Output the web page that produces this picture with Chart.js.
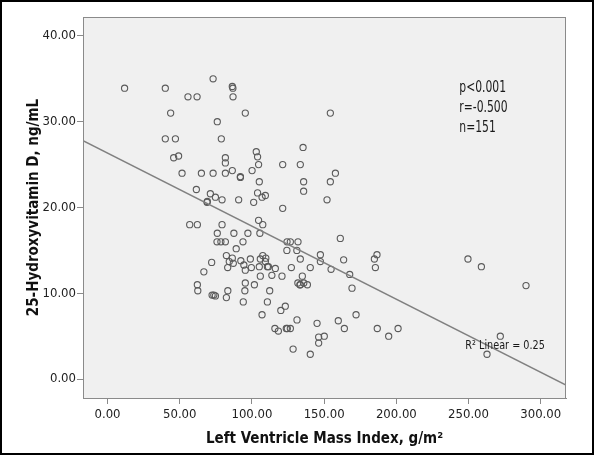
<!DOCTYPE html>
<html>
<head>
<meta charset="utf-8">
<script src="https://cdn.jsdelivr.net/npm/chart.js@4.4.1/dist/chart.umd.min.js"></script>
<style>
  html, body { margin: 0; padding: 0; background: #ffffff; }
  #wrap { width: 594px; height: 455px; }
</style>
</head>
<body>
<div id="wrap"><canvas id="c" width="594" height="455"></canvas></div>
<script>
// Left Ventricle Mass Index (g/m²)
const lvmi = [
  11.8,40.0,73.1,86.4,86.8,55.7,62.0,86.9,43.7,95.4,
  154.3,76.0,40.0,47.0,78.8,45.8,49.2,51.6,61.5,65.0,
  73.1,81.6,81.6,81.6,86.4,92.0,100.1,103.0,103.9,104.6,
  121.3,133.5,135.4,157.8,105.1,135.8,154.3,135.8,71.2,74.7,
  79.3,90.8,68.9,101.2,103.9,107.0,109.3,152.0,121.3,56.9,
  62.2,79.3,104.6,107.5,76.0,87.5,97.2,105.5,75.8,78.5,
  81.6,93.8,89.1,124.3,126.6,131.9,161.2,124.2,131.1,133.5,
  147.4,163.5,186.6,184.8,185.5,249.6,258.9,82.3,86.4,84.3,
  87.1,83.2,92.3,94.4,95.4,98.9,99.6,105.1,105.8,107.5,
  109.3,111.4,116.2,72.1,66.7,105.8,113.8,120.8,127.3,140.4,
  134.9,147.4,154.8,167.7,131.8,133.5,135.9,138.4,169.3,95.4,
  101.7,62.2,62.5,72.4,74.7,83.3,82.3,95.1,112.3,94.0,
  110.7,123.1,120.0,107.0,131.2,145.1,159.8,164.0,172.1,115.9,
  118.3,123.8,126.6,146.2,150.1,146.2,128.5,140.4,186.8,194.7,
  201.2,272.0,262.8,289.8,92.0,69.1,109.6,110.7,133.2,73.6,
  124.5
];
// 25-Hydroxyvitamin D (ng/mL)
const vitD = [
  33.9,33.9,35.0,34.1,33.9,32.9,32.9,32.9,31.0,31.0,
  31.0,30.0,28.0,28.0,28.0,25.8,26.0,24.0,22.1,24.0,
  24.0,25.8,25.2,24.0,24.3,23.6,24.3,26.5,25.9,25.0,
  25.0,25.0,27.0,24.0,23.0,23.0,23.0,21.9,21.6,21.2,
  20.9,20.9,20.6,20.6,21.7,21.2,21.4,20.9,19.9,18.0,
  18.0,18.0,18.5,18.0,17.0,17.0,17.0,17.0,16.0,16.0,
  16.0,16.0,15.2,16.0,16.0,16.0,16.4,15.0,15.0,14.0,
  14.5,13.9,14.5,14.0,13.0,14.0,13.1,14.4,14.1,13.7,
  13.5,13.0,13.8,13.3,12.7,14.0,13.0,13.1,14.0,14.4,
  13.7,13.1,12.9,13.6,12.5,12.0,12.1,12.0,13.0,13.0,
  12.0,13.7,12.8,12.2,11.2,11.0,11.2,11.0,10.6,11.2,
  11.0,11.0,10.3,9.8,9.7,10.3,9.5,10.3,10.3,9.0,
  9.0,8.5,8.0,7.5,6.9,6.5,6.8,5.9,7.5,5.9,
  5.6,5.9,5.9,4.9,5.0,4.2,3.5,2.9,5.9,5.0,
  5.9,5.0,2.9,10.9,23.5,20.7,14.1,13.1,11.0,9.8,
  5.9
];
const xTicks = [0, 50, 100, 150, 200, 250, 300];
const yTicks = [0, 10, 20, 30, 40];
const xRange = [-17, 317.5];
const yRange = [-2.2, 42.2];
// linear fit
const fitIntercept = 26.35;
const fitSlope = -0.0852;
const statLines = ["p<0.001", "r=-0.500", "n=151"];
const fitLabel = "R\u00B2 Linear = 0.25";
const xTitle = "Left Ventricle Mass Index, g/m\u00B2";
const yTitle = "25-Hydroxyvitamin D, ng/mL";

const FONT = "'Liberation Sans Narrow', 'DejaVu Sans Condensed', 'Liberation Sans', Arial, sans-serif";

const points = lvmi.map((x, i) => ({ x: x, y: vitD[i] }));
const fitLine = xRange.map(x => ({ x: x, y: fitIntercept + fitSlope * x }));

function narrowText(ctx, text, x, y, sx) {
  ctx.save();
  ctx.translate(x, y);
  ctx.scale(sx, 1);
  ctx.fillText(text, 0, 0);
  ctx.restore();
}

const framePlugin = {
  id: 'frame',
  beforeDraw(chart) {
    const ctx = chart.ctx, a = chart.chartArea;
    ctx.save();
    ctx.fillStyle = '#ffffff';
    ctx.fillRect(0, 0, chart.width, chart.height);
    ctx.fillStyle = '#f0f0f0';
    ctx.fillRect(a.left, a.top, a.right - a.left, a.bottom - a.top);
    ctx.restore();
  },
  afterDraw(chart) {
    const ctx = chart.ctx, a = chart.chartArea;
    const xs = chart.scales.x, ys = chart.scales.y;
    ctx.save();
    ctx.strokeStyle = '#8a8a8a';
    ctx.lineWidth = 1;
    ctx.strokeRect(a.left + 0.5, a.top + 0.5, a.right - a.left - 1, a.bottom - a.top);
    // stats text
    ctx.fillStyle = '#1a1a1a';
    ctx.font = "15px " + FONT;
    ctx.textAlign = 'left';
    ctx.textBaseline = 'middle';
    const sx = xs.getPixelForValue(243.6);
    const sy = ys.getPixelForValue(33.95);
    statLines.forEach((t, i) => narrowText(ctx, t, sx, sy + i * 20, 0.8));
    ctx.font = "12.5px " + FONT;
    narrowText(ctx, fitLabel, xs.getPixelForValue(247.8), ys.getPixelForValue(3.9), 0.86);
    // outer black frame
    ctx.strokeStyle = '#000000';
    ctx.lineWidth = 2;
    ctx.strokeRect(1, 1, chart.width - 2, chart.height - 2);
    ctx.restore();
  }
};

new Chart(document.getElementById('c'), {
  type: 'scatter',
  data: {
    datasets: [
      {
        type: 'line',
        data: fitLine,
        borderColor: '#808080',
        borderWidth: 1.5,
        pointRadius: 0,
        fill: false,
        order: 0
      },
      {
        data: points,
        pointStyle: 'circle',
        pointRadius: 3.1,
        borderWidth: 1.1,
        borderColor: '#5a5a5a',
        backgroundColor: 'rgba(0,0,0,0)',
        order: 1
      }
    ]
  },
  options: {
    responsive: false,
    animation: false,
    devicePixelRatio: 1,
    layout: { padding: { top: 17, right: 28, left: 0, bottom: 0 } },
    plugins: { legend: { display: false }, tooltip: { enabled: false } },
    scales: {
      x: {
        type: 'linear',
        min: xRange[0], max: xRange[1],
        afterBuildTicks: s => { s.ticks = xTicks.map(v => ({ value: v })); },
        afterFit: s => { s.height = 57; },
        ticks: {
          color: '#222222', padding: 3, autoSkip: false, maxRotation: 0,
          font: { family: FONT, size: 13 },
          callback: v => Number(v).toFixed(2)
        },
        grid: { drawOnChartArea: false, drawTicks: true, tickLength: 6, color: '#8a8a8a' },
        border: { color: '#8a8a8a' },
        title: {
          display: true, text: xTitle, color: '#111111',
          font: { family: FONT, size: 15, weight: 'bold' },
          padding: { top: 0, bottom: 7 }
        }
      },
      y: {
        type: 'linear',
        min: yRange[0], max: yRange[1],
        afterBuildTicks: s => { s.ticks = yTicks.map(v => ({ value: v })); },
        afterFit: s => { s.width = 83; },
        ticks: {
          color: '#222222', padding: 1, autoSkip: false,
          font: { family: FONT, size: 13 },
          callback: v => Number(v).toFixed(2)
        },
        grid: { drawOnChartArea: false, drawTicks: true, tickLength: 6, color: '#8a8a8a' },
        border: { color: '#8a8a8a' },
        title: {
          display: true, text: yTitle, color: '#111111',
          font: { family: FONT, size: 15, weight: 'bold' },
          padding: { top: 25, bottom: 0 }
        }
      }
    }
  },
  plugins: [framePlugin]
});
</script>
</body>
</html>
